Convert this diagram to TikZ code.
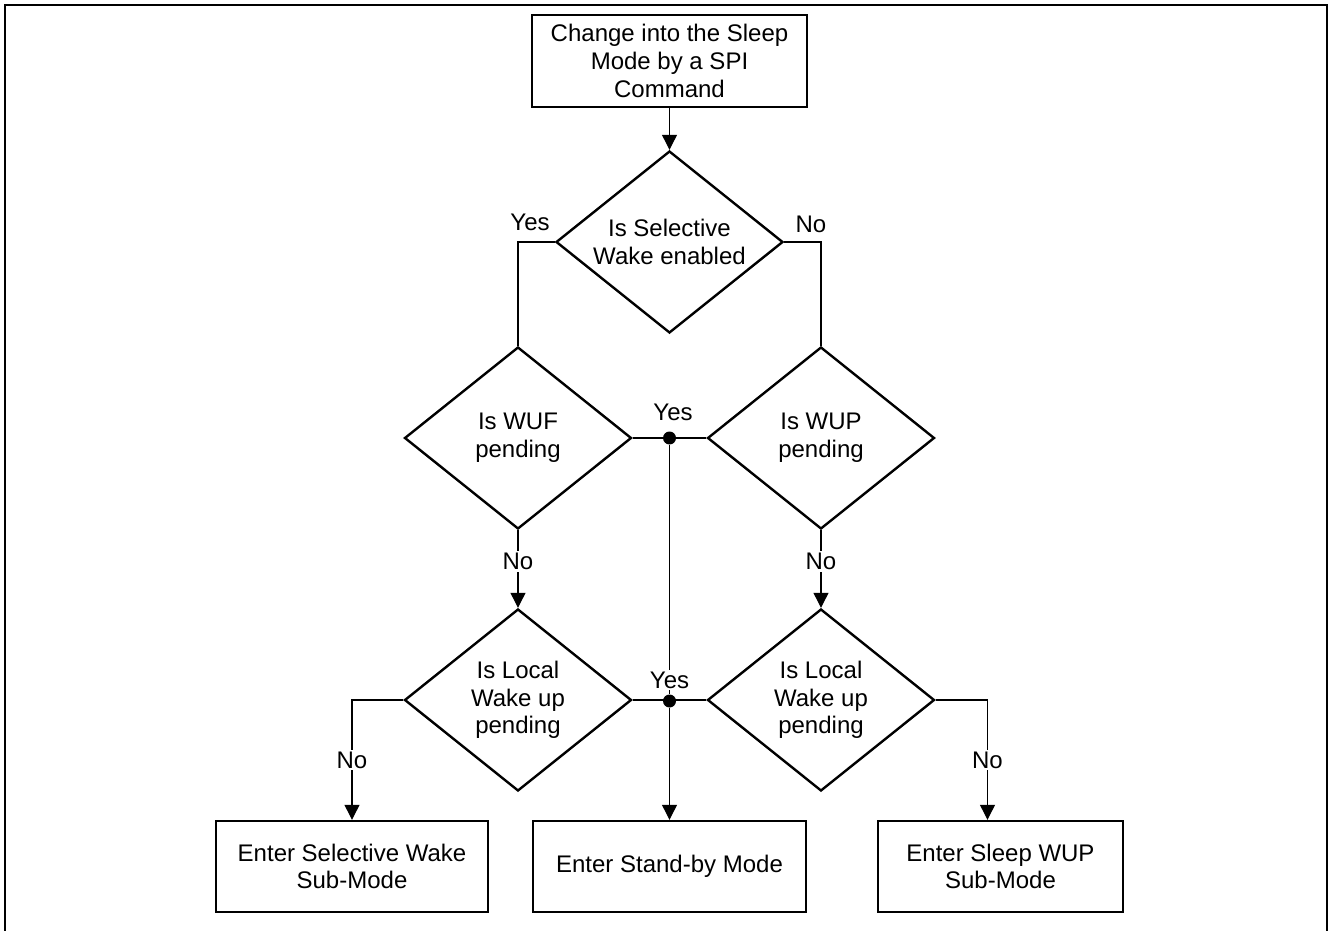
\documentclass[tikz,border=0pt]{standalone}
\usepackage{fontspec}
\setmainfont{Liberation Sans}
\usetikzlibrary{shapes.geometric,arrows.meta}

\begin{document}
\begin{tikzpicture}[x=0.5pt,y=-0.5pt,
  box/.style={draw,line width=1.2pt,align=center,inner sep=0pt},
  decision/.style={draw,diamond,aspect=1.26,line width=1.2pt,align=center,inner xsep=-8pt,inner ysep=-4pt,minimum width=113.5pt,minimum height=91pt},
  flow/.style={line width=0.6pt,-{Triangle[width=7.5pt,length=7.5pt]}},
  link/.style={line width=0.6pt},
  answer/.style={fill=white,inner sep=1pt},
  junction/.style={circle,fill,inner sep=0pt,minimum size=6.5pt}]
\tikzstyle{every node}=[font=\fontsize{12}{13.8}\selectfont]
\useasboundingbox (0,0) rectangle (1330,931);

% Draw the frame
\draw[line width=1pt] (5,931) |- (1327,5) -- (1327,931);

% Draw the start box and the decisions
\node[box,minimum width=137.5pt,minimum height=46pt] (start) at (669.5,61) {Change into the Sleep\\Mode by a SPI\\Command};
\node[decision] (swake) at (669.5,242) {Is Selective\\Wake enabled};
\node[decision] (wuf) at (518,438) {Is WUF\\pending};
\node[decision] (wup) at (821,438) {Is WUP\\pending};
\node[decision] (local1) at (518,700) {Is Local\\Wake up\\pending};
\node[decision] (local2) at (821,700) {Is Local\\Wake up\\pending};

% Draw the end boxes
\node[box,minimum width=136pt,minimum height=45.5pt] (selwake) at (352,866.5) {Enter Selective Wake\\Sub-Mode};
\node[box,minimum width=136.5pt,minimum height=45.5pt] (standby) at (669.5,866.5) {Enter Stand-by Mode};
\node[box,minimum width=122.5pt,minimum height=45.5pt] (sleepwup) at (1000.5,866.5) {Enter Sleep WUP\\Sub-Mode};

% Draw the junctions
\node[junction] (j1) at (669.5,438) {};
\node[junction] (j2) at (669.5,701) {};

% Draw the connections
\draw[flow] (start) -- (swake);
\draw[link] (swake.west) -| (wuf.north);
\draw[link] (swake.east) -| (wup.north);
\draw[link] (wuf.east) -- (wup.west);
\draw[link] (j1) -- (j2);
\draw[link] (local1.east) -- (local2.west);
\draw[flow] (j2) -- (standby);
\draw[flow] (wuf) -- (local1) node[answer,pos=0.4] (no1) {No};
\draw[flow] (wup) -- (local2) node[answer,pos=0.4] (no2) {No};
\draw[flow] (local1.west) -| (selwake.north) node[answer,pos=0.75] (no3) {No};
\draw[flow] (local2.east) -| ([xshift=-6.5pt]sleepwup.north) node[answer,pos=0.75] (no4) {No};

% Draw the answer labels
\node (yes1) at (530,222) {Yes};
\node (no0) at (811,224) {No};
\node (yes2) at (673,412) {Yes};
\node[answer] (yes3) at (669.5,680) {Yes};

\end{tikzpicture}
\end{document}
